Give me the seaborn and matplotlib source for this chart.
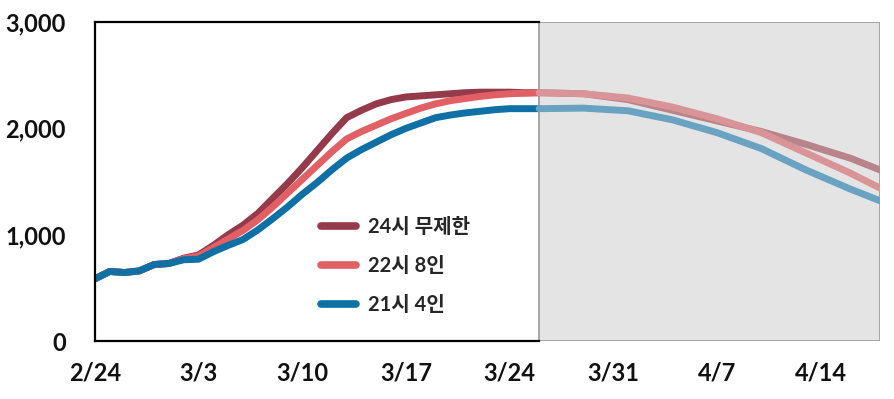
import numpy as np
import pandas as pd
import matplotlib
matplotlib.use("Agg")
import matplotlib.pyplot as plt
import seaborn as sns

# ---- data ----
series_names = ["24시 무제한", "22시 8인", "21시 4인"]
obs_days = list(range(0, 31))
obs_24 = [585, 655, 645, 660, 720, 730, 780, 810, 900, 1000, 1090, 1200, 1340, 1480,
          1630, 1790, 1950, 2100, 2170, 2230, 2270, 2295, 2305, 2315, 2325, 2335,
          2340, 2340, 2340, 2335, 2335]
obs_22 = [585, 655, 645, 660, 720, 730, 775, 800, 880, 960, 1040, 1140, 1260, 1390,
          1520, 1650, 1780, 1900, 1970, 2030, 2090, 2140, 2190, 2230, 2260, 2280,
          2300, 2315, 2325, 2330, 2335]
obs_21 = [585, 655, 645, 660, 720, 730, 765, 770, 840, 900, 955, 1045, 1150, 1260,
          1380, 1490, 1610, 1720, 1800, 1870, 1940, 2000, 2050, 2100, 2125, 2145,
          2160, 2175, 2185, 2185, 2185]
proj_days = [30, 33, 36, 39, 42, 45, 48, 51, 53]
proj_24 = [2335, 2325, 2270, 2170, 2070, 1970, 1850, 1720, 1610]
proj_22 = [2335, 2325, 2285, 2200, 2090, 1960, 1770, 1580, 1440]
proj_21 = [2185, 2190, 2165, 2080, 1960, 1810, 1610, 1430, 1320]
xtick_days = [0, 7, 14, 21, 28, 35, 42, 49]
xtick_labels = ["2/24", "3/3", "3/10", "3/17", "3/24", "3/31", "4/7", "4/14"]
ytick_vals = [0, 1000, 2000, 3000]
ytick_labels = ["0", "1,000", "2,000", "3,000"]

obs_colors = ["#943a4a", "#e06066", "#0e70a4"]
proj_colors = ["#b9838b", "#d99497", "#6aa3c1"]

df_obs = pd.DataFrame({
    "day": obs_days * 3,
    "value": obs_24 + obs_22 + obs_21,
    "series": sum([[n] * len(obs_days) for n in series_names], []),
})
df_proj = pd.DataFrame({
    "day": proj_days * 3,
    "value": proj_24 + proj_22 + proj_21,
    "series": sum([[n] * len(proj_days) for n in series_names], []),
})

sns.set_style("white")
plt.rcParams["font.family"] = ["Lato", "Noto Sans CJK KR", "DejaVu Sans"]

fig = plt.figure(figsize=(8.95, 3.99), dpi=100)
ax = fig.add_axes([0.106, 0.145, 0.877, 0.800])

ax.axvspan(30, 53, facecolor="#e4e4e4", edgecolor="#9a9a9a", linewidth=1.2, zorder=0)

sns.lineplot(data=df_obs, x="day", y="value", hue="series", hue_order=series_names,
             palette=obs_colors, linewidth=5, ax=ax, legend=True)
sns.lineplot(data=df_proj, x="day", y="value", hue="series", hue_order=series_names,
             palette=proj_colors, linewidth=5, ax=ax, legend=False)

ax.set_xlim(0, 53)
ax.set_ylim(0, 3000)
ax.set_xticks(xtick_days)
ax.set_xticklabels(xtick_labels, fontsize=17, fontweight="bold")
ax.set_yticks(ytick_vals)
ax.set_yticklabels(ytick_labels, fontsize=17, fontweight="bold")
ax.set_xlabel("")
ax.set_ylabel("")
ax.tick_params(axis="both", direction="in", length=5, width=1.4, colors="black",
               labelcolor="#111111")
ax.tick_params(axis="x", pad=15)
ax.tick_params(axis="y", pad=21)

for tk in ax.xaxis.get_major_ticks()[5:]:
    tk.tick1line.set_color("#888888")

for s in ["left", "bottom", "top"]:
    ax.spines[s].set_color("black")
    ax.spines[s].set_linewidth(1.6)
ax.spines["top"].set_bounds(0, 30)
ax.spines["bottom"].set_bounds(0, 30)
ax.spines["right"].set_visible(False)

handles, labels = ax.get_legend_handles_labels()
for h in handles:
    h.set_linewidth(5.5)
    h.set_solid_capstyle("round")
leg = ax.legend(handles, labels, loc="upper left", bbox_to_anchor=(0.265, 0.445),
                frameon=False, handlelength=1.75, handletextpad=0.6, labelspacing=0.95,
                prop={"family": ["Lato", "Noto Sans CJK KR"], "weight": "bold", "size": 14.5})

fig.savefig("out.png", dpi=100)
